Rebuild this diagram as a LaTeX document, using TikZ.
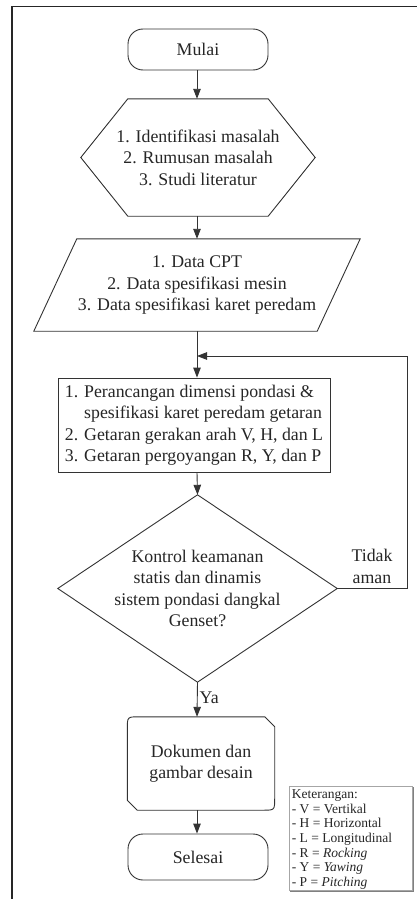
\documentclass[tikz,border=0pt]{standalone}
\usepackage{fontspec}
\setmainfont{Liberation Serif}
\usetikzlibrary{arrows.meta,calc}
\begin{document}
\begin{tikzpicture}[x=1pt,y=-1pt,
  line/.style={draw=black!80, line width=0.9pt},
  arr/.style={line, -{Triangle[length=10pt,width=7.5pt]}},
  txt/.style={font=\fontsize{17.8}{21.5}\selectfont, text=black!85, align=center, inner sep=0pt},
  term/.style={txt, line, rounded corners=15pt, minimum width=140pt, minimum height=41pt},
  ghost/.style={txt, draw=none},
  legtxt/.style={font=\fontsize{13.5}{14.6}\selectfont, text=black!85, align=left, inner sep=0pt},
]
\useasboundingbox (0,0) rectangle (417,899);
\fill[white] (0,0) rectangle (417,899);
\draw[black!85, line width=1.5pt] (417,6.5) -- (12,6.5) -- (12,899);

% Start
\node[term] (mulai) at (198,49.5) {Mulai};

% Hexagon (preparation)
\node[ghost, minimum width=234pt, minimum height=117pt] (hex) at (198,157.5)
  {1. Identifikasi masalah\\2. Rumusan masalah\\3. Studi literatur};
\draw[line] (hex.west) -- ($(hex.north west)+(47,0)$) -- ($(hex.north east)+(-47,0)$)
  -- (hex.east) -- ($(hex.south east)+(-47,0)$) -- ($(hex.south west)+(47,0)$) -- cycle;

% Parallelogram (data)
\node[ghost, minimum width=326pt, minimum height=92pt] (par) at (197,285)
  {1. Data CPT\\2. Data spesifikasi mesin\\3. Data spesifikasi karet peredam};
\draw[line] ($(par.north west)+(43,0)$) -- (par.north east) -- ($(par.south east)+(-43,0)$)
  -- (par.south west) -- cycle;

% Process
\node[txt, line, align=left, minimum width=272pt, minimum height=94pt] (proc) at (194,425)
  {1. Perancangan dimensi pondasi \&\\\hphantom{1. }spesifikasi karet peredam getaran\\2. Getaran gerakan arah V, H, dan L\\3. Getaran pergoyangan R, Y, dan P};

% Decision
\node[ghost, minimum width=279pt, minimum height=187pt] (dia) at (197.5,588.5)
  {Kontrol keamanan\\statis dan dinamis\\sistem pondasi dangkal\\Genset?};
\draw[line] (dia.north) -- (dia.east) -- (dia.south) -- (dia.west) -- cycle;

% Document / output
\node[ghost, minimum width=147pt, minimum height=93pt] (doc) at (201,763.5)
  {Dokumen dan\\gambar desain};
\draw[line] ($(doc.north west)+(0,12)$) .. controls (doc.north west) .. ($(doc.north west)+(12,0)$)
  -- ($(doc.north east)+(-10,0)$) -- ($(doc.north east)+(0,10)$)
  -- ($(doc.south east)+(0,-12)$) .. controls (doc.south east) .. ($(doc.south east)+(-12,0)$)
  -- ($(doc.south west)+(10,0)$) -- ($(doc.south west)+(0,-10)$) -- cycle;

% End
\node[term, minimum height=46pt] (sel) at (198,857) {Selesai};

% Connectors
\coordinate (fbin) at (197,356);
\coordinate (fbr) at (407,356);
\draw[arr] (mulai.south -| 197,0) -- (hex.north -| 197,0);
\draw[arr] (hex.south -| 197,0) -- (par.north -| 197,0);
\draw[arr] (par.south -| 197,0) -- (proc.north -| 197,0);
\draw[arr] (proc.south -| 197,0) -- (dia.north);
\draw[arr] (dia.south) -- (doc.north -| 197,0) node[pos=0.45, right, txt, inner sep=2pt] (ya) {Ya};
\draw[arr] (doc.south -| 197,0) -- (sel.north -| 197,0);
\draw[arr] (dia.east) -| (fbr) -- (fbin);
\node[txt] (tidak) at (372,566.5) {Tidak\\aman};

% Legend
\node[draw=gray!70, line width=0.8pt, minimum width=123pt, minimum height=104pt, inner sep=0pt] (leg) at (350.5,838) {};
\draw[gray, line width=1.2pt] ($(leg.south west)+(1.5,1.2)$) -- ($(leg.south east)+(1.2,1.2)$) -- ($(leg.north east)+(1.2,1.5)$);
\node[legtxt, anchor=north west] (legtext) at ($(leg.north west)+(3,4)$)
  {Keterangan:\\- V = Vertikal\\- H = Horizontal\\- L = Longitudinal\\- R = \textit{Rocking}\\- Y = \textit{Yawing}\\- P = \textit{Pitching}};
\end{tikzpicture}
\end{document}
